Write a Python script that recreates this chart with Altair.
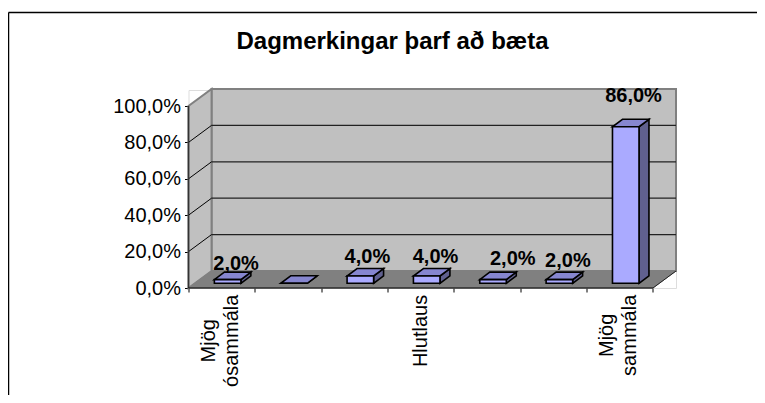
import altair as alt
import pandas as pd

categories = ["Mjög\nósammála", "", "", "Hlutlaus", "", "", "Mjög\nsammála"]
values = [2, 0, 4, 4, 2, 2, 86]
value_labels = ["2,0%", "", "4,0%", "4,0%", "2,0%", "2,0%", "86,0%"]
label_x = [0.7175, None, 2.696, 3.723, 4.887, 5.718, 6.707]
label_y = [9.9, None, 13.7, 13.7, 12.6, 11.5, 102.2]
cat_label_x = [0.31, None, None, 3.5, None, None, 6.31]
cat_label_y = [-29, None, None, -23.6, None, None, -26]
y_ticks = [0, 20, 40, 60, 80, 100]
x_ticks = [0, 1, 2, 3, 4, 5, 6, 7]
title_text = "Dagmerkingar þarf að bæta"

FONT = "Liberation Sans"
N = len(values)
DX, DY = 23 / 66.2, 17 / 1.82          # depth of the floor, in data units
BX, BW = 0.39, 0.40                    # bar start and width within a category
BASE = 2.6                             # bar base lifted from the front edge
BDX, BDY = 0.15, 4.1                   # bar depth
PW, PH = 487.5, 198

xs = alt.Scale(domain=[0, N + DX], range=[0, PW], nice=False, zero=False)
ys = alt.Scale(domain=[0, 198 / 1.82], range=[PH, 0], nice=False, zero=False)

# axes (ticks and labels only, axis lines are drawn from 0-100 below)
x_axis = alt.Axis(values=x_ticks, labels=False, domain=False, grid=False, ticks=True,
                  tickColor="#000000", tickSize=4, tickWidth=1)
y_axis = alt.Axis(values=y_ticks, domain=False, grid=False, ticks=True, tickColor="#000000",
                  tickSize=4, tickWidth=1, labelFont=FONT, labelFontSize=20, labelColor="#000000",
                  labelPadding=4,
                  labelExpr="replace(format(datum.value,'.1f'),'.',',')+'%'")


def X(f="x"):
    return alt.X(f + ":Q", scale=xs, axis=x_axis, title=None)


def Y(f="y"):
    return alt.Y(f + ":Q", scale=ys, axis=y_axis, title=None)


# walls and floor
back = alt.Chart(pd.DataFrame({"x": [DX], "x2": [N + DX], "y": [DY], "y2": [100 + DY]})).mark_rect(
    fill="#C0C0C0", stroke="#808080", strokeWidth=2).encode(x=X(), x2="x2:Q", y=Y(), y2="y2:Q")
side = alt.Chart(pd.DataFrame({"x": [0, DX], "y": [0, DY], "y2": [100, 100 + DY]})).mark_area(
    fill="#C0C0C0", stroke="#808080", strokeWidth=2, opacity=1).encode(x=X(), y=Y(), y2="y2:Q")
floor = alt.Chart(pd.DataFrame({"y": [0, DY], "x": [0, DX], "x2": [N, N + DX]})).mark_area(
    orient="horizontal", fill="#808080", stroke="#808080", strokeWidth=1, opacity=1).encode(
    y=Y(), x=X(), x2="x2:Q")

# gridlines on the back and side walls
g = [t for t in y_ticks if 0 < t < 100]
grid_b = alt.Chart(pd.DataFrame({"x": [DX] * len(g), "x2": [N + DX] * len(g),
                                 "y": [t + DY for t in g]})).mark_rule(
    color="#222222", strokeWidth=1.2).encode(x=X(), x2="x2:Q", y=Y())
grid_s = alt.Chart(pd.DataFrame({"x": [0] * len(g), "x2": [DX] * len(g), "y": g,
                                 "y2": [t + DY for t in g]})).mark_rule(
    color="#000000", strokeWidth=1).encode(x=X(), x2="x2:Q", y=Y(), y2="y2:Q")

# axis lines
axis_y = alt.Chart(pd.DataFrame({"x": [0], "y": [0], "y2": [100]})).mark_rule(
    color="#333333", strokeWidth=1.5).encode(x=X(), y=Y(), y2="y2:Q")
axis_x = alt.Chart(pd.DataFrame({"x": [0], "x2": [N], "y": [0]})).mark_rule(
    color="#000000", strokeWidth=1.2).encode(x=X(), x2="x2:Q", y=Y())
floor_edge = alt.Chart(pd.DataFrame({"x": [N], "x2": [N + DX], "y": [0], "y2": [DY]})).mark_rule(
    color="#222222", strokeWidth=1).encode(x=X(), x2="x2:Q", y=Y(), y2="y2:Q")

# 3-D bars
tops, sides, fronts = [], [], []
for i, v in enumerate(values):
    x0, x1 = i + BX, i + BX + BW
    y0, y1 = BASE, BASE + v
    fronts.append({"x": x0, "x2": x1, "y": y0, "y2": y1})
    tops += [{"b": i, "y": y1, "x": x0, "x2": x1},
             {"b": i, "y": y1 + BDY, "x": x0 + BDX, "x2": x1 + BDX}]
    sides += [{"b": i, "x": x1, "y": y0, "y2": y1},
              {"b": i, "x": x1 + BDX, "y": y0 + BDY, "y2": y1 + BDY}]

bar_side = alt.Chart(pd.DataFrame(sides)).mark_area(
    fill="#60608F", stroke="#000000", strokeWidth=1.6, opacity=1).encode(
    x=X(), y=Y(), y2="y2:Q", detail="b:N")
bar_top = alt.Chart(pd.DataFrame(tops)).mark_area(
    orient="horizontal", fill="#8686D0", stroke="#000000", strokeWidth=1.6, opacity=1).encode(
    y=Y(), x=X(), x2="x2:Q", detail="b:N")
bar_front = alt.Chart(pd.DataFrame(fronts)).mark_rect(
    fill="#AAAAFF", stroke="#000000", strokeWidth=1.6).encode(
    x=X(), x2="x2:Q", y=Y(), y2="y2:Q")

# value labels
vl = pd.DataFrame({"x": label_x, "y": label_y, "t": value_labels}).dropna()
val_text = alt.Chart(vl).mark_text(font=FONT, fontSize=20, fontWeight="bold", color="#000000",
                                   baseline="alphabetic", align="center").encode(
    x=X(), y=Y(), text="t:N")

# category labels
cl = pd.DataFrame({"x": cat_label_x, "y": cat_label_y, "t": categories}).dropna()
cat_text = alt.Chart(cl).mark_text(font=FONT, fontSize=20, color="#000000", angle=270,
                                   align="center", baseline="middle", lineBreak="\n",
                                   lineHeight=23).encode(
    x=X(), y=Y(), text="t:N")

# chart title
title_mark = alt.Chart(pd.DataFrame({"t": [title_text]})).mark_text(
    font=FONT, fontSize=24, fontWeight="bold", color="#000000", align="center",
    baseline="alphabetic").encode(x=alt.value(204), y=alt.value(-41), text="t:N")

# outer frame: left and top edges only
frame_l = alt.Chart(pd.DataFrame({"a": [0]})).mark_rule(color="#000000", strokeWidth=1.5).encode(
    x=alt.value(-180), y=alt.value(-77.5), y2=alt.value(305))
frame_t = alt.Chart(pd.DataFrame({"a": [0]})).mark_rule(color="#000000", strokeWidth=1.5).encode(
    y=alt.value(-77.5), x=alt.value(-180), x2=alt.value(568.5))

chart = alt.layer(
    back, side, floor, grid_b, grid_s, floor_edge, axis_y, axis_x,
    bar_side, bar_top, bar_front, val_text, cat_text, title_mark, frame_l, frame_t,
).properties(
    width=PW, height=PH,
    autosize=alt.AutoSizeParams(type="none"),
    padding={"left": 180.5, "top": 82, "right": 81, "bottom": 115},
).configure_view(stroke=None).configure(background="#FFFFFF")

chart.save("out.html", embed_options={"renderer": "svg", "actions": False})
